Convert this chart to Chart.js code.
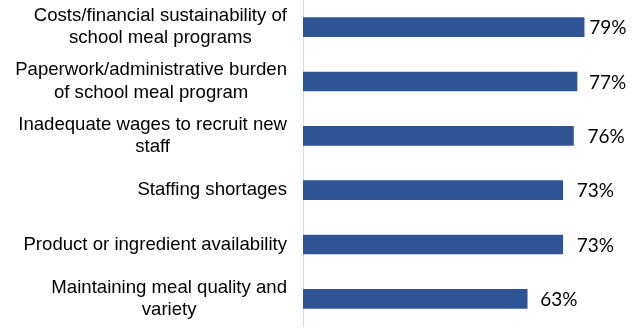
<!DOCTYPE html>
<html>
<head>
<meta charset="utf-8">
<script src="https://cdn.jsdelivr.net/npm/chart.js@4/dist/chart.umd.min.js"></script>
<style>
  html, body { margin: 0; padding: 0; background: #ffffff; }
  #wrap { width: 640px; height: 336px; position: relative; }
</style>
</head>
<body>
<div id="wrap"><canvas id="c" width="640" height="336"></canvas></div>
<script>
// ---- data ----
const categories = [
  ["Costs/financial sustainability of", "school meal programs"],
  ["Paperwork/administrative burden", "of school meal program"],
  ["Inadequate wages to recruit new", "staff"],
  ["Staffing shortages"],
  ["Product or ingredient availability"],
  ["Maintaining meal quality and", "variety"]
];
const values = [79, 77, 76, 73, 73, 63];
const valueLabels = ["79%", "77%", "76%", "73%", "73%", "63%"];

// ---- styles (kept separate from data) ----
const barColor = "#2F5597";
const labelOffsets = [5, 12, 14, 14, 14, 13];
const catFont = "18.6px 'Liberation Sans', Arial, sans-serif";
const catLineHeight = 22.3;
const valFont = "19px Lato, 'Open Sans', sans-serif";

const categoryLabelPlugin = {
  id: "categoryLabels",
  afterDraw(chart) {
    const ctx = chart.ctx;
    const yScale = chart.scales.y;
    const rightEdge = chart.chartArea.left - 16;
    ctx.save();
    ctx.font = catFont;
    ctx.fillStyle = "#000000";
    ctx.textAlign = "center";
    ctx.textBaseline = "middle";
    categories.forEach((lines, i) => {
      const y = yScale.getPixelForTick(i);
      let w = 0;
      lines.forEach(l => { w = Math.max(w, ctx.measureText(l).width); });
      const cx = rightEdge - w / 2;
      const n = lines.length;
      lines.forEach((l, j) => {
        ctx.fillText(l, cx, y + (j - (n - 1) / 2) * catLineHeight);
      });
    });
    ctx.restore();
  }
};

const valueLabelPlugin = {
  id: "valueLabels",
  afterDatasetsDraw(chart) {
    const ctx = chart.ctx;
    const meta = chart.getDatasetMeta(0);
    ctx.save();
    ctx.font = valFont;
    ctx.fillStyle = "#000000";
    ctx.textAlign = "left";
    ctx.textBaseline = "middle";
    meta.data.forEach((bar, i) => {
      ctx.fillText(valueLabels[i], bar.x + labelOffsets[i], bar.y + 1);
    });
    ctx.restore();
  }
};

new Chart(document.getElementById("c"), {
  type: "bar",
  data: {
    labels: categories,
    datasets: [{
      data: values,
      backgroundColor: barColor,
      borderWidth: 0,
      barThickness: 19
    }]
  },
  options: {
    indexAxis: "y",
    responsive: false,
    animation: false,
    devicePixelRatio: 1,
    layout: { padding: { top: 0, bottom: 10, left: 0, right: 0 } },
    plugins: {
      legend: { display: false },
      tooltip: { enabled: false },
      title: { display: false }
    },
    scales: {
      x: {
        display: false,
        min: 0,
        max: 94.7
      },
      y: {
        grid: { display: true, color: "rgba(0,0,0,0)", drawTicks: false },
        border: { display: true, color: "#D9D9D9", width: 1 },
        ticks: { display: false },
        afterFit(scale) { scale.width = 303; }
      }
    }
  },
  plugins: [categoryLabelPlugin, valueLabelPlugin]
});
</script>
</body>
</html>
